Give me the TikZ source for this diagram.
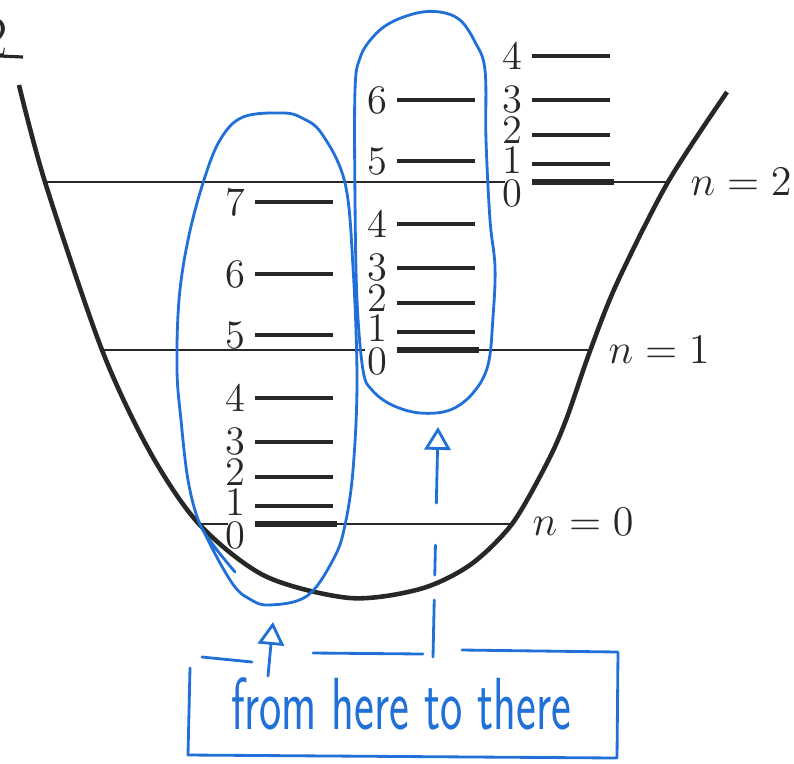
\documentclass[tikz,border=0pt]{standalone}
\usepackage{fontspec}
\usepackage{graphicx}
\usetikzlibrary{arrows.meta}
\definecolor{ink}{RGB}{38,40,40}
\definecolor{pen}{RGB}{32,112,216}
\begin{document}
\begin{tikzpicture}[x=0.01cm,y=-0.01cm,
  font=\fontsize{11.5}{14}\selectfont,
  well/.style={ink,line width=1.3pt},
  nline/.style={ink,line width=0.7pt},
  stick/.style={ink,line width=1.1pt},
  groundstick/.style={ink,line width=1.8pt},
  digit/.style={ink,anchor=east,inner sep=0pt},
  nlabel/.style={ink,anchor=base west,inner sep=0pt},
  penline/.style={pen,line width=0.8pt,line cap=round,line join=round},
  tip/.style={-{Triangle[open,length=6.5pt,width=7.5pt,line width=0.8pt]}}]
\useasboundingbox (0,0) rectangle (794,763);

% cut-off mark in the corner
\node[ink,anchor=east,inner sep=0pt,font=\fontsize{17}{20}\selectfont] (corner) at (9,38) {2};
\draw[ink,line width=0.9pt] (0,56) -- (23,57);

% the well
\draw[well] plot[smooth,tension=0.5] coordinates {(19,85) (45,182) (102,350) (150,452)
  (199,524) (265,576) (350,598) (420,589) (470,565) (512,524) (547,463) (566,420)
  (590,351) (617,283) (668,182) (727,92)};

% band levels
\draw[nline] (45,182) -- (505,182) (532,182) -- (668,182);
\draw[nline] (102,350) -- (365,350) (397,350) -- (590,350);
\draw[nline] (199,524) -- (228,524) (255,524) -- (512,524);
\node[nlabel] (ntwo) at (690,195) {$n = 2$};
\node[nlabel] (none) at (608,363) {$n = 1$};
\node[nlabel] (nzero) at (532,535) {$n = 0$};

% level ladders
\foreach \g/\x/\y/\top in {A/255/524/7, B/397/350/6, C/532/182/4}{
  \foreach \lv/\dy/\sh in {0/0/11, 1/18/-4, 2/47/-5, 3/82/-1, 4/126/0, 5/189/0, 6/250/0, 7/322/0}{
    \ifnum\lv>\top\else
      \ifnum\lv=0
        \draw[groundstick] (\x,\y) -- ++(82,0);
      \else
        \draw[stick] (\x,\y-\dy) -- ++(78,0);
      \fi
      \node[digit] (\g\lv) at (\x-9,\y-\dy+\sh) {\lv};
    \fi
  }
}

% hand-drawn loops
\draw[penline] plot[smooth,tension=0.6] coordinates {(235,572) (214,546) (199,522) (188,480)
  (181,420) (177,370) (179,300) (188,240) (203,183) (220,140) (243,117) (283,113) (302,118)
  (322,134) (345,183) (353,267) (357,380) (353,470) (345,525) (334,558) (307,596) (268,605)
  (248,598) (235,587) (220,563) (205,534)};
\draw[penline] plot[smooth cycle,tension=0.6] coordinates {(363,370) (357,300) (355,200)
  (355,90) (360,58) (372,38) (390,23) (417,13) (440,12) (460,20) (475,42) (485,70) (486,140)
  (490,220) (495,267) (493,317) (488,365) (473,393) (450,410) (420,413) (392,405) (372,390)};

% note and its box
\node[pen,inner sep=0pt,font=\sffamily\fontsize{21}{24}\selectfont] (note) at (401,704)
  {\scalebox{0.64}[1]{from here to there}};
\draw[penline] (202,657) -- (252,662);
\draw[penline] (313,653) -- (423,654);
\draw[penline] (462,650) -- (618,652) -- (617,758) -- (188,755) -- (190,668);

% arrows
\coordinate (hereFoot) at (268,676);
\coordinate (hereTip) at (273,622);
\coordinate (thereFoot) at (433,657);
\coordinate (thereTip) at (438,427);
\draw[penline,tip] (hereFoot) -- (hereTip);
\draw[penline,tip,dash pattern=on 16.2pt off 7.1pt on 8.5pt off 12pt on 30pt] (thereFoot) -- (thereTip);
\end{tikzpicture}
\end{document}
